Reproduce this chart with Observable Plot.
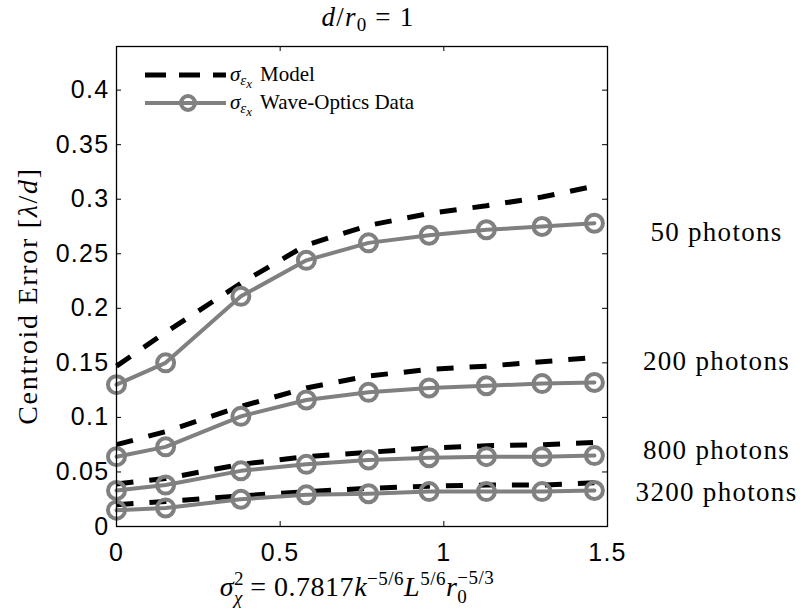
<!DOCTYPE html>
<html>
<head>
<meta charset="utf-8">
<script src="https://cdn.jsdelivr.net/npm/d3@7"></script>
<script src="https://cdn.jsdelivr.net/npm/@observablehq/plot@0.6"></script>
<style>
  html, body { margin: 0; padding: 0; background: white; }
  #chart svg { display: block; }
  .chart g[aria-label="x-axis tick label"] text,
  .chart g[aria-label="y-axis tick label"] text { letter-spacing: 1.3px; }
  .chart g[aria-label="text"] text { letter-spacing: 1.3px; }
  .serif, .serif text, .serif tspan { font-family: "Liberation Serif", "Times New Roman", serif; }
</style>
</head>
<body>
<div id="chart"></div>
<script>
// ---- data ----
const xVals = [0, 0.15, 0.38, 0.58, 0.77, 0.955, 1.13, 1.30, 1.46];
const photonCounts = [50, 200, 800, 3200];
const data50   = [0.130, 0.150, 0.211, 0.244, 0.260, 0.267, 0.272, 0.275, 0.278];
const model50  = [0.147, 0.178, 0.223, 0.258, 0.276, 0.287, 0.294, 0.302, 0.312];
const data200  = [0.064, 0.073, 0.101, 0.116, 0.123, 0.127, 0.129, 0.131, 0.132];
const model200 = [0.075, 0.087, 0.110, 0.127, 0.138, 0.144, 0.147, 0.151, 0.155];
const data800  = [0.033, 0.038, 0.051, 0.057, 0.061, 0.063, 0.064, 0.064, 0.065];
const model800 = [0.039, 0.044, 0.057, 0.064, 0.068, 0.072, 0.074, 0.075, 0.077];
const data3200  = [0.015, 0.017, 0.025, 0.029, 0.030, 0.032, 0.032, 0.032, 0.033];
const model3200 = [0.020, 0.023, 0.028, 0.032, 0.035, 0.037, 0.038, 0.038, 0.040];
const seriesLabels = ["50 photons", "200 photons", "800 photons", "3200 photons"];
const labelAnchorY = [0.270, 0.151, 0.070, 0.0315];
const xTicks = [0, 0.5, 1, 1.5];
const xTickLabels = ["0", "0.5", "1", "1.5"];
const yTicks = [0, 0.05, 0.1, 0.15, 0.2, 0.25, 0.3, 0.35, 0.4];
const yTickLabels = ["0", "0.05", "0.1", "0.15", "0.2", "0.25", "0.3", "0.35", "0.4"];

// ---- build tables ----
const dataSeries = [data50, data200, data800, data3200];
const modelSeries = [model50, model200, model800, model3200];
const dataRows = [], modelRows = [];
photonCounts.forEach((n, k) => {
  xVals.forEach((x, i) => {
    dataRows.push({n, x, y: dataSeries[k][i]});
    modelRows.push({n, x, y: modelSeries[k][i]});
  });
});
const labelRows = seriesLabels.map((t, i) => ({t, y: labelAnchorY[i]}));

const W = 807, H = 615, mL = 116, mR = 200, mT = 46, mB = 89;
const pw = W - mL - mR, ph = H - mT - mB;
const tick = 5;
const SERIF = "'Liberation Serif', 'Times New Roman', serif";

const chart = Plot.plot({
  width: W, height: H,
  marginLeft: mL, marginRight: mR, marginTop: mT, marginBottom: mB,
  className: "chart",
  style: {background: "white", fontFamily: "'Liberation Sans', Arial, sans-serif", color: "black"},
  x: {domain: [0, 1.5]},
  y: {domain: [0, 0.44]},
  marks: [
    Plot.axisX(xTicks, {tickSize: 0, tickPadding: 17, fontSize: 25, tickFormat: (d, i) => xTickLabels[i], label: null}),
    Plot.axisY(yTicks, {tickSize: 0, tickPadding: 7, fontSize: 25, tickFormat: (d, i) => yTickLabels[i], label: null}),
    Plot.tickX(xTicks, {x: d => d, insetTop: ph - tick, stroke: "black"}),
    Plot.tickX(xTicks, {x: d => d, insetBottom: ph - tick, stroke: "black"}),
    Plot.tickY(yTicks, {y: d => d, insetRight: pw - tick, stroke: "black"}),
    Plot.tickY(yTicks, {y: d => d, insetLeft: pw - tick, stroke: "black"}),
    Plot.line(modelRows, {x: "x", y: "y", z: "n", stroke: "black", strokeWidth: 5, strokeDasharray: "17,16", strokeLinecap: "butt"}),
    Plot.line(dataRows, {x: "x", y: "y", z: "n", stroke: "#808080", strokeWidth: 4}),
    Plot.dot(dataRows, {x: "x", y: "y", r: 8.5, stroke: "#808080", strokeWidth: 4, fill: "none"}),
    Plot.text(labelRows, {x: () => 1.5, y: "y", text: "t", dx: 109, textAnchor: "middle", fontSize: 27, fontFamily: SERIF, fill: "black"}),
    Plot.frame({stroke: "black", strokeWidth: 1.3})
  ]
});
document.getElementById("chart").appendChild(chart);

// ---- text annotations with math ----
const svg = d3.select(chart);
const g = svg.append("g").attr("class", "serif").attr("fill", "black").style("font-family", SERIF);

// title
const title = g.append("text").attr("x", 368).attr("y", 26).attr("text-anchor", "middle")
  .attr("font-size", 27).style("font-family", SERIF).style("letter-spacing", "1.2px");
title.append("tspan").attr("font-style", "italic").text("d");
title.append("tspan").text("/");
title.append("tspan").attr("font-style", "italic").text("r");
title.append("tspan").attr("font-size", 19).attr("dy", 5).text("0");
title.append("tspan").attr("dy", -5).text(" = 1");

// y label
const yl = g.append("text").attr("transform", "translate(37,296) rotate(-90)").attr("text-anchor", "middle")
  .attr("font-size", 28).style("letter-spacing", "1.7px").style("font-family", SERIF);
yl.append("tspan").text("Centroid Error [");
yl.append("tspan").attr("font-style", "italic").text("λ");
yl.append("tspan").text("/");
yl.append("tspan").attr("font-style", "italic").text("d");
yl.append("tspan").text("]");

// x label
const xl = g.append("text").attr("x", 357).attr("y", 596).attr("text-anchor", "middle")
  .attr("font-size", 28).style("font-family", SERIF).style("letter-spacing", "0.5px");
xl.append("tspan").attr("font-style", "italic").text("σ");
xl.append("tspan").attr("font-size", 19).attr("dy", -11).text("2");
xl.append("tspan").attr("font-size", 19).attr("font-style", "italic").attr("dx", -10).attr("dy", 19).text("χ");
xl.append("tspan").attr("dy", -8).text(" = 0.7817");
xl.append("tspan").attr("font-style", "italic").text("k");
xl.append("tspan").attr("font-size", 19).attr("dy", -11).text("−5/6");
xl.append("tspan").attr("font-style", "italic").attr("dy", 11).text("L");
xl.append("tspan").attr("font-size", 19).attr("dy", -11).text("5/6");
xl.append("tspan").attr("font-style", "italic").attr("dy", 11).text("r");
xl.append("tspan").attr("font-size", 19).attr("dy", 7).text("0");
xl.append("tspan").attr("font-size", 19).attr("dx", -10).attr("dy", -19).text("−5/3");

// legend
const lg = svg.append("g").attr("class", "serif");
lg.append("line").attr("x1", 145).attr("x2", 226).attr("y1", 75).attr("y2", 75)
  .attr("stroke", "black").attr("stroke-width", 5).attr("stroke-dasharray", "21,13");
lg.append("line").attr("x1", 145).attr("x2", 226).attr("y1", 103).attr("y2", 103)
  .attr("stroke", "#808080").attr("stroke-width", 4);
lg.append("circle").attr("cx", 188).attr("cy", 103).attr("r", 7)
  .attr("stroke", "#808080").attr("stroke-width", 4).attr("fill", "none");
[["Model", 75], ["Wave-Optics Data", 103]].forEach(([lab, yy]) => {
  const t = lg.append("text").attr("x", 230).attr("y", yy + 6).attr("font-size", 21)
    .attr("text-anchor", "start").attr("fill", "black").style("font-family", SERIF);
  t.append("tspan").attr("font-style", "italic").text("σ");
  t.append("tspan").attr("font-style", "italic").attr("font-size", 15).attr("dy", 4).text("ε");
  t.append("tspan").attr("font-style", "italic").attr("font-size", 13).attr("dy", 3).text("x");
  t.append("tspan").attr("dy", -7).attr("dx", 8).text(lab);
});
</script>
</body>
</html>
